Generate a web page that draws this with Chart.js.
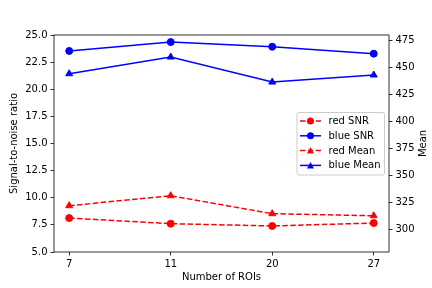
<!DOCTYPE html>
<html lang="en">
<head>
  <meta charset="UTF-8" />
  <title>SNR and Mean vs Number of ROIs</title>
  <script src="https://cdn.jsdelivr.net/npm/chart.js"></script>
  <style>
    html, body { margin: 0; padding: 0; background: #fff; }
    #wrap { width: 432px; height: 288px; position: relative; }
  </style>
</head>
<body>
  <div id="wrap"><canvas id="chart"></canvas></div>

  <script>
    // data
    const rois      = ['7', '11', '20', '27'];
    const redSnr    = [8.13, 7.61, 7.40, 7.67];
    const blueSnr   = [23.53, 24.35, 23.92, 23.28];
    const redMean   = [322.2, 331.4, 314.8, 312.9];
    const blueMean  = [444.2, 459.6, 436.5, 443.0];
    const snrTicks  = [5, 7.5, 10, 12.5, 15, 17.5, 20, 22.5, 25];
    const meanTicks = [300, 325, 350, 375, 400, 425, 450, 475];

    Chart.defaults.font.family = "'DejaVu Sans', sans-serif";
    Chart.defaults.font.size = 10;
    Chart.defaults.color = '#000';

    const pts = arr => arr.map((v, i) => ({ x: i, y: v }));

    function series(label, data, color, dashed, marker, axis) {
      return {
        label, data: pts(data), yAxisID: axis,
        borderColor: color, backgroundColor: color,
        borderWidth: 1.5, borderDash: dashed ? [5.5, 2.4] : [],
        pointStyle: marker, pointRadius: marker === 'triangle' ? 4 : 3.5,
        pointBorderWidth: 1, pointHoverRadius: 4,
        tension: 0, fill: false
      };
    }

    // frame, right-hand title and the in-plot legend
    const extras = {
      id: 'extras',
      afterDatasetsDraw(chart) {
        const { ctx, chartArea: a } = chart;
        ctx.save();
        ctx.strokeStyle = '#000';
        ctx.lineWidth = 0.8;
        ctx.strokeRect(a.left, a.top, a.right - a.left, a.bottom - a.top);

        // right axis title
        ctx.font = "10px 'DejaVu Sans'";
        ctx.fillStyle = '#000';
        ctx.textAlign = 'center';
        ctx.textBaseline = 'middle';
        ctx.translate(423, (a.top + a.bottom) / 2);
        ctx.rotate(-Math.PI / 2);
        ctx.fillText('Mean', 0, 0);
        ctx.restore();

        // legend box
        ctx.save();
        const bx = a.right - 92, by = 112.5, bw = 87.5, bh = 62.5;
        ctx.beginPath();
        ctx.roundRect(bx, by, bw, bh, 2);
        ctx.fillStyle = 'rgba(255,255,255,0.8)';
        ctx.fill();
        ctx.strokeStyle = '#cccccc';
        ctx.lineWidth = 1;
        ctx.stroke();

        chart.data.datasets.forEach((ds, i) => {
          const y = by + 8.5 + i * 14.8;
          const x0 = bx + 3, x1 = bx + 24, xm = (x0 + x1) / 2;
          ctx.strokeStyle = ds.borderColor;
          ctx.fillStyle = ds.borderColor;
          ctx.lineWidth = 1.5;
          ctx.setLineDash(ds.borderDash);
          ctx.beginPath();
          ctx.moveTo(x0, y); ctx.lineTo(x1, y);
          ctx.stroke();
          ctx.setLineDash([]);
          ctx.beginPath();
          if (ds.pointStyle === 'triangle') {
            ctx.moveTo(xm, y - 3.5);
            ctx.lineTo(xm + 3.5, y + 3);
            ctx.lineTo(xm - 3.5, y + 3);
            ctx.closePath();
          } else {
            ctx.arc(xm, y, 3.5, 0, Math.PI * 2);
          }
          ctx.fill();
          ctx.fillStyle = '#000';
          ctx.textAlign = 'left';
          ctx.textBaseline = 'middle';
          ctx.font = "10px 'DejaVu Sans'";
          ctx.fillText(ds.label, bx + 31.5, y + 0.5);
        });
        ctx.restore();
      }
    };

    const tickGrid = {
      display: true, drawOnChartArea: false, drawTicks: true,
      tickLength: 3.5, color: '#000', lineWidth: 0.8
    };

    new Chart(document.getElementById('chart').getContext('2d'), {
      type: 'line',
      data: {
        datasets: [
          series('red SNR',   redSnr,   '#ff0000', true,  'circle',   'y'),
          series('blue SNR',  blueSnr,  '#0000ff', false, 'circle',   'y'),
          series('red Mean',  redMean,  '#ff0000', true,  'triangle', 'y1'),
          series('blue Mean', blueMean, '#0000ff', false, 'triangle', 'y1')
        ]
      },
      options: {
        responsive: true, maintainAspectRatio: false, animation: false,
        devicePixelRatio: 1,
        layout: { padding: { top: 35, left: 0, right: 0, bottom: 0 } },
        plugins: { legend: { display: false }, tooltip: { enabled: false } },
        scales: {
          x: {
            type: 'linear', min: -0.15, max: 3.15,
            grid: tickGrid, border: { display: false },
            afterBuildTicks: s => { s.ticks = rois.map((_, i) => ({ value: i })); },
            ticks: { padding: 3, maxRotation: 0, autoSkip: false,
                     callback: v => rois[v] },
            title: { display: true, text: 'Number of ROIs', padding: { top: 0, bottom: 5 } },
            afterFit: s => { s.height = 36; }
          },
          y: {
            position: 'left', min: 5, max: 25,
            grid: tickGrid, border: { display: false },
            afterBuildTicks: s => { s.ticks = snrTicks.map(v => ({ value: v })); },
            ticks: { padding: 3, callback: v => v.toFixed(1) },
            title: { display: true, text: 'Signal-to-noise ratio', padding: { top: 8 } },
            afterFit: s => { s.width = 54; }
          },
          y1: {
            position: 'right', min: 279.4, max: 480,
            grid: tickGrid, border: { display: false },
            afterBuildTicks: s => { s.ticks = meanTicks.map(v => ({ value: v })); },
            ticks: { padding: 3 },
            afterFit: s => { s.width = 43; }
          }
        }
      },
      plugins: [extras]
    });
  </script>
</body>
</html>
